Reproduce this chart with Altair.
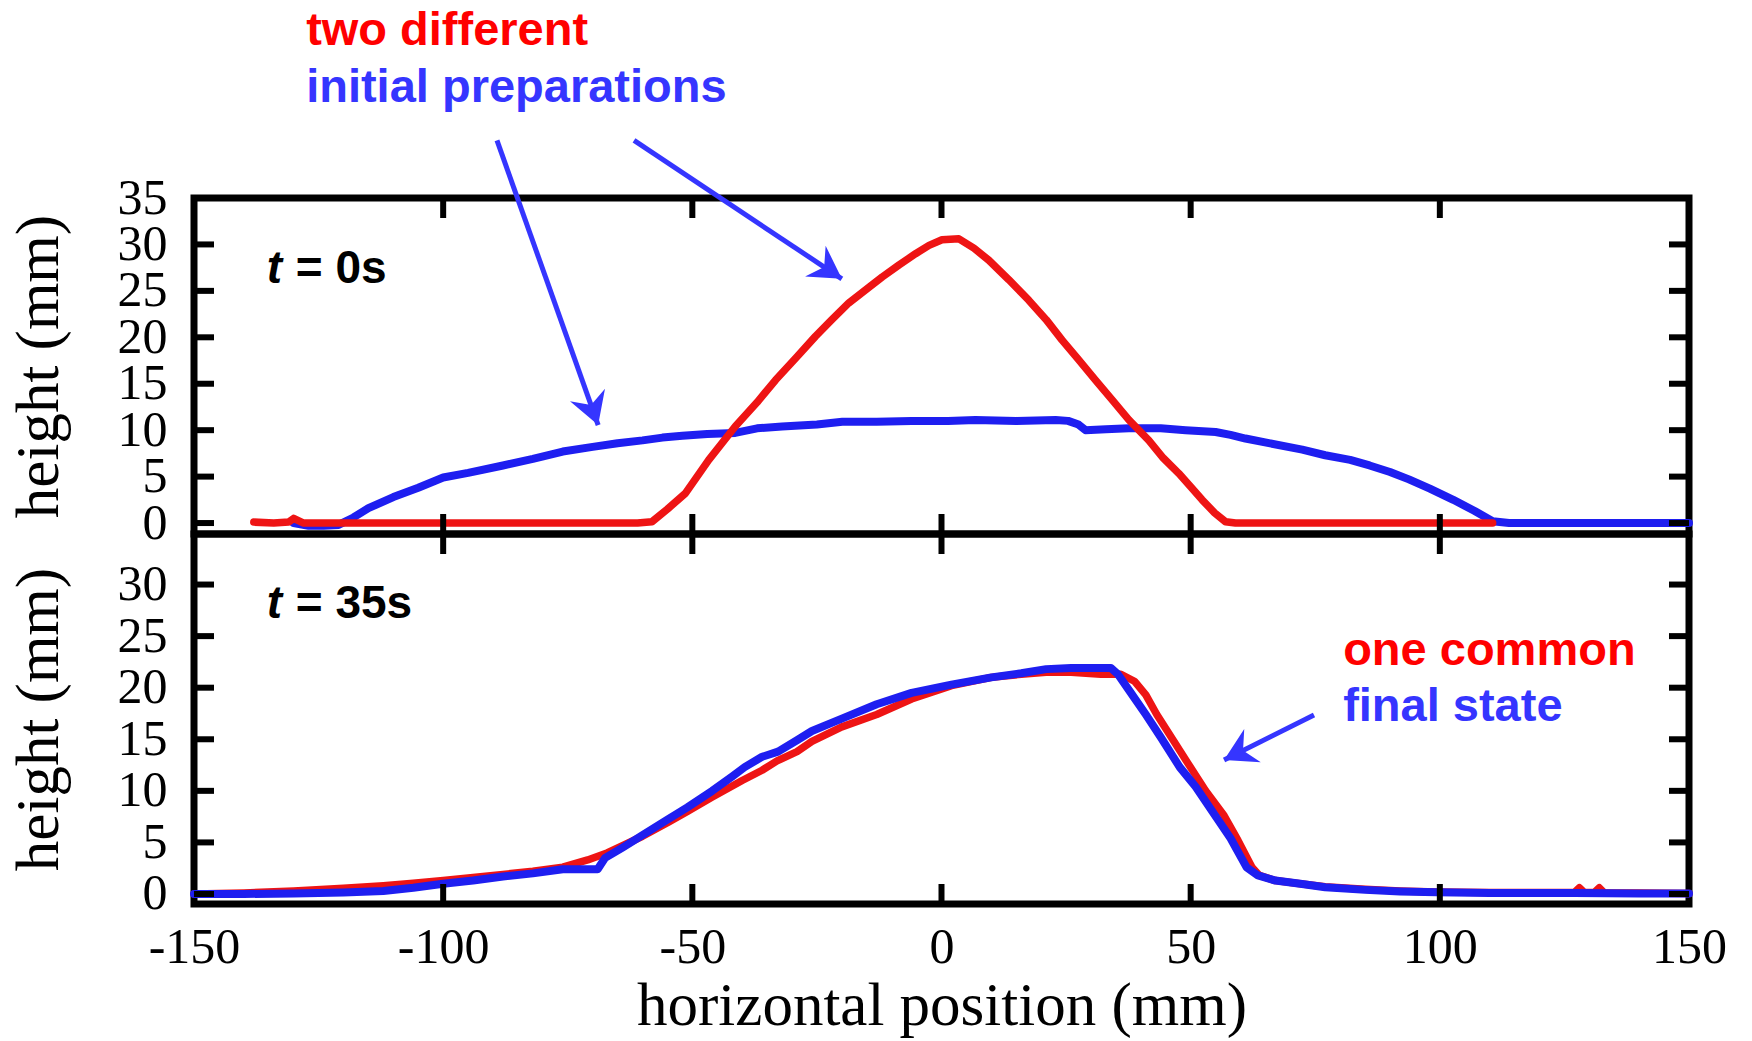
import math
import altair as alt
import pandas as pd

# ---------------- data ----------------
X_TICKS = [-150, -100, -50, 0, 50, 100, 150]
INNER_X_TICKS = [-100, -50, 0, 50, 100]
TOP_Y_TICKS = [0, 5, 10, 15, 20, 25, 30, 35]
BOTTOM_Y_TICKS = [0, 5, 10, 15, 20, 25, 30]

# t = 0 s, preparation 1 (red, triangular heap)
TOP_RED_X = [-138, -134, -131, -130, -128, -120, -100, -80, -65, -61, -58.1, -55, -51.4, -46.7,
             -41.4, -37, -33.3, -29, -25.3, -22, -18.6, -15, -11.9, -8.5, -5.2, -2.5, 0.1, 3.5,
             6.5, 9.5, 13.5, 17.5, 21, 24.2, 27.5, 30.9, 34.5, 37.6, 41.6, 44.5, 47.6, 50,
             52.3, 54.8, 57.0, 59, 70, 80, 90, 100, 110.6]
TOP_RED_H = [0.1, 0.0, 0.1, 0.5, 0.0, 0.0, 0.0, 0.0, 0.0, 0.0, 0.14, 1.5, 3.2, 6.8,
             10.4, 13.0, 15.4, 17.9, 20.1, 21.9, 23.7, 25.2, 26.5, 27.8, 29.0, 29.9, 30.5, 30.6,
             29.6, 28.3, 26.2, 24.0, 21.9, 19.7, 17.6, 15.4, 13.1, 11.1, 8.9, 7.0, 5.35, 3.9,
             2.5, 1.1, 0.14, 0.0, 0.0, 0.0, 0.0, 0.0, 0.0]

# t = 0 s, preparation 2 (blue, wide flat heap)
TOP_BLUE_X = [-130, -127, -124, -121, -118, -115, -110, -105, -100, -95, -88, -82, -76, -70,
              -65, -60, -56, -52, -47, -41.4, -37, -32, -25, -19.9, -13, -6, 1.3, 6.8, 15, 22.9,
              25.4, 27.5, 28.9, 33, 37.6, 44, 49, 55.0, 58, 61, 65.7, 72.4, 77, 82, 85.9, 90,
              93.8, 98, 102.7, 107, 110.6, 113.9, 120, 130, 140, 150]
TOP_BLUE_H = [0.0, -0.3, -0.3, -0.2, 0.6, 1.6, 2.8, 3.8, 4.9, 5.4, 6.2, 6.9, 7.7, 8.2,
              8.6, 8.9, 9.2, 9.4, 9.6, 9.7, 10.2, 10.4, 10.6, 10.9, 10.9, 11.0, 11.0, 11.1, 11.0, 11.1,
              11.0, 10.6, 10.0, 10.1, 10.2, 10.2, 10.0, 9.8, 9.5, 9.1, 8.6, 7.9, 7.3, 6.8, 6.2, 5.5,
              4.7, 3.7, 2.5, 1.3, 0.2, 0.0, 0.0, 0.0, 0.0, 0.0]

# t = 35 s, preparation 1 (red)
BOT_RED_X = [-150, -140, -130, -120, -112, -106, -100, -94, -88, -82, -76, -71, -67, -64, -60,
             -55, -51, -46, -40, -36, -33, -29, -26, -20, -13, -6, 2, 10, 16, 21, 26, 32, 36,
             38.8, 41, 43.2, 46.5, 49.8, 53, 56.7, 59.5, 62.3, 63.8, 67, 72, 77, 85, 92, 99.4,
             110, 120, 127, 128, 129, 131, 132, 133, 140, 150]
BOT_RED_H = [0.0, 0.1, 0.3, 0.55, 0.8, 1.05, 1.3, 1.6, 1.9, 2.2, 2.6, 3.3, 4.0, 4.7, 5.6,
             6.9, 8.0, 9.4, 11.0, 12.0, 12.9, 13.8, 14.8, 16.2, 17.4, 18.9, 20.2, 21.0, 21.3, 21.5, 21.5, 21.3, 21.3,
             20.6, 19.3, 17.4, 14.9, 12.4, 10.0, 7.6, 5.2, 2.6, 1.8, 1.3, 1.0, 0.7, 0.45, 0.3, 0.2,
             0.15, 0.15, 0.15, 0.6, 0.15, 0.15, 0.6, 0.1, 0.1, 0.05]

# t = 35 s, preparation 2 (blue)
BOT_BLUE_X = [-150, -140, -130, -120, -112, -106, -100, -94, -88, -82, -76, -71, -69, -67.5,
              -64, -60, -55, -51, -46, -42, -39.5, -36, -32.8, -29, -26, -20, -13, -6, 2, 10,
              16, 21, 26, 32, 34, 35.4, 38, 41, 44, 47.8, 51, 54.5, 58, 61.2, 63.5, 67, 72, 77,
              85, 92, 99.4, 110, 120, 127, 140, 150]
BOT_BLUE_H = [0.0, 0.0, 0.05, 0.15, 0.3, 0.6, 1.0, 1.3, 1.7, 2.0, 2.4, 2.4, 2.4, 3.5,
              4.5, 5.7, 7.2, 8.4, 10.0, 11.4, 12.3, 13.3, 13.8, 14.9, 15.8, 17.0, 18.4, 19.5, 20.3, 21.0,
              21.4, 21.8, 21.9, 21.9, 21.9, 21.3, 19.5, 17.4, 15.2, 12.3, 10.4, 7.9, 5.4, 2.6, 1.8, 1.3, 1.0, 0.65,
              0.4, 0.25, 0.16, 0.1, 0.1, 0.1, 0.05, 0.05]

# annotations (data coordinates of each panel)
TOP_NOTE_TEXT = ["two different", "initial preparations"]
TOP_NOTE_X = [-127.5, -127.5]
TOP_NOTE_Y = [51.5, 45.3]
BOT_NOTE_TEXT = ["one common", "final state"]
BOT_NOTE_X = [80.6, 80.6]
BOT_NOTE_Y = [22.2, 16.8]

TIME_LABELS = ["= 0s", "= 35s"]
TIME_X = [-135.4, -135.4]
TIME_Y = [25.8, 26.8]

# arrows: start -> tip
TOP_ARROW_X0 = [-89.2, -61.7]
TOP_ARROW_Y0 = [41.2, 41.2]
TOP_ARROW_X1 = [-68.9, -20.0]
TOP_ARROW_Y1 = [10.55, 26.3]
BOT_ARROW_X0 = [74.75]
BOT_ARROW_Y0 = [17.35]
BOT_ARROW_X1 = [56.7]
BOT_ARROW_Y1 = [13.0]

# ---------------- styling ----------------
W = 1495
H_TOP = 336
H_BOT = 370
TICK = 20
RED = "#ee1414"
BLUE = "#1e1ef0"
ANN_RED = "#ff0000"
ANN_BLUE = "#3535ff"
SERIF = "Liberation Serif"
SANS = "Liberation Sans"
U = alt.Undefined

X_DOM = [-150, 150]
TOP_DOM = [-1.18, 35]
BOT_DOM = [-0.97, 34.9]

xscale = alt.Scale(domain=X_DOM, nice=False, zero=False)
top_ys = alt.Scale(domain=TOP_DOM, nice=False, zero=False)
bot_ys = alt.Scale(domain=BOT_DOM, nice=False, zero=False)

ARROW_HEAD = "M0,0L1.05,1.8L0,1.2L-1.05,1.8Z"


def enc_x(field, xax):
    return alt.X(field, scale=xscale, axis=xax)


def enc_y(field, yscale):
    return alt.Y(field, scale=yscale)


def line_layer(xs, hs, color, width, yscale, xax, yax=U):
    df = pd.DataFrame({"x": xs, "h": hs})
    return alt.Chart(df).mark_line(color=color, strokeWidth=width, strokeJoin="round", strokeCap="round").encode(
        x=enc_x("x:Q", xax),
        y=alt.Y("h:Q", scale=yscale, axis=yax),
    )


def tick_layers(yvalues, yscale, height, xax):
    xt = pd.DataFrame({"x": INNER_X_TICKS})
    yt = pd.DataFrame({"y": yvalues})
    rule = dict(color="black", strokeWidth=6)
    top = alt.Chart(xt).mark_rule(**rule).encode(
        x=enc_x("x:Q", xax), y=alt.value(0), y2=alt.value(TICK))
    bottom = alt.Chart(xt).mark_rule(**rule).encode(
        x=enc_x("x:Q", xax), y=alt.value(height), y2=alt.value(height - TICK))
    left = alt.Chart(yt).mark_rule(**rule).encode(
        y=enc_y("y:Q", yscale), x=alt.value(0), x2=alt.value(TICK))
    right = alt.Chart(yt).mark_rule(**rule).encode(
        y=enc_y("y:Q", yscale), x=alt.value(W), x2=alt.value(W - TICK))
    return [top, bottom, left, right]


def note_layer(texts, xs, ys, colors, yscale, xax):
    df = pd.DataFrame({"t": texts, "x": xs, "y": ys, "c": colors})
    return alt.Chart(df).mark_text(align="left", baseline="alphabetic", font=SANS, fontWeight="bold",
                                   fontSize=47).encode(
        x=enc_x("x:Q", xax),
        y=enc_y("y:Q", yscale),
        text="t:N",
        color=alt.Color("c:N", scale=None),
    )


def time_layers(label, x, y, yscale, xax):
    df = pd.DataFrame({"x": [x], "y": [y], "t": ["t"], "r": [label]})
    t = alt.Chart(df).mark_text(align="left", baseline="alphabetic", font=SANS, fontWeight="bold",
                                fontStyle="italic", fontSize=46, color="black").encode(
        x=enc_x("x:Q", xax), y=enc_y("y:Q", yscale), text="t:N")
    r = alt.Chart(df).mark_text(align="left", baseline="alphabetic", font=SANS, fontWeight="bold",
                                fontSize=46, color="black", dx=29).encode(
        x=enc_x("x:Q", xax), y=enc_y("y:Q", yscale), text="r:N")
    return [t, r]


def arrow_layers(x0, y0, x1, y1, yscale, dom, height, xax):
    px_x = W / (X_DOM[1] - X_DOM[0])
    px_y = height / (dom[1] - dom[0])
    ang = []
    for a, b, c, d in zip(x0, y0, x1, y1):
        dx = (c - a) * px_x
        dy = -(d - b) * px_y
        ang.append(math.degrees(math.atan2(dx, -dy)) % 360)
    df = pd.DataFrame({"x0": x0, "y0": y0, "x1": x1, "y1": y1, "ang": ang})
    shaft = alt.Chart(df).mark_rule(color=ANN_BLUE, strokeWidth=5).encode(
        x=enc_x("x0:Q", xax), y=enc_y("y0:Q", yscale),
        x2="x1:Q", y2="y1:Q")
    head = alt.Chart(df).mark_point(shape=ARROW_HEAD, filled=True, size=1250, color=ANN_BLUE,
                                    opacity=1, strokeWidth=0).encode(
        x=enc_x("x1:Q", xax), y=enc_y("y1:Q", yscale),
        angle=alt.Angle("ang:Q", scale=None))
    return [shaft, head]


# top panel: no x axis at all (every layer says so), y axis from the first layer
NOX = None
top = alt.layer(
    line_layer(TOP_BLUE_X, TOP_BLUE_H, BLUE, 8, top_ys, NOX,
               alt.Axis(values=TOP_Y_TICKS, title="height (mm)")),
    line_layer(TOP_RED_X, TOP_RED_H, RED, 7.5, top_ys, NOX),
    *tick_layers(TOP_Y_TICKS, top_ys, H_TOP, NOX),
    *time_layers(TIME_LABELS[0], TIME_X[0], TIME_Y[0], top_ys, NOX),
    note_layer(TOP_NOTE_TEXT, TOP_NOTE_X, TOP_NOTE_Y, [ANN_RED, ANN_BLUE], top_ys, NOX),
    *arrow_layers(TOP_ARROW_X0, TOP_ARROW_Y0, TOP_ARROW_X1, TOP_ARROW_Y1, top_ys, TOP_DOM, H_TOP, NOX),
).properties(width=W, height=H_TOP)

bottom = alt.layer(
    line_layer(BOT_RED_X, BOT_RED_H, RED, 7.5, bot_ys,
               alt.Axis(values=X_TICKS, title="horizontal position (mm)", labelExpr="datum.value + ''",
                        labelPadding=18, titlePadding=4),
               alt.Axis(values=BOTTOM_Y_TICKS, title="height (mm)")),
    line_layer(BOT_BLUE_X, BOT_BLUE_H, BLUE, 8, bot_ys, U),
    *tick_layers(BOTTOM_Y_TICKS, bot_ys, H_BOT, U),
    *time_layers(TIME_LABELS[1], TIME_X[1], TIME_Y[1], bot_ys, U),
    note_layer(BOT_NOTE_TEXT, BOT_NOTE_X, BOT_NOTE_Y, [ANN_RED, ANN_BLUE], bot_ys, U),
    *arrow_layers(BOT_ARROW_X0, BOT_ARROW_Y0, BOT_ARROW_X1, BOT_ARROW_Y1, bot_ys, BOT_DOM, H_BOT, U),
).properties(width=W, height=H_BOT)

chart = alt.vconcat(top, bottom, spacing=0, bounds="flush").properties(
    padding={"left": 4, "top": 3, "right": 0, "bottom": 0},
    background="white",
).configure_view(
    stroke="black", strokeWidth=7
).configure_axis(
    labelFont=SERIF, labelFontSize=50, labelColor="black", labelPadding=27,
    ticks=False, domain=False, grid=False, labelOverlap=False, labelFlush=False,
    titleFont=SERIF, titleFontSize=61, titleFontWeight="normal", titleColor="black",
    titlePadding=47,
)

chart.save("out.html", embed_options={"renderer": "svg", "actions": False})
